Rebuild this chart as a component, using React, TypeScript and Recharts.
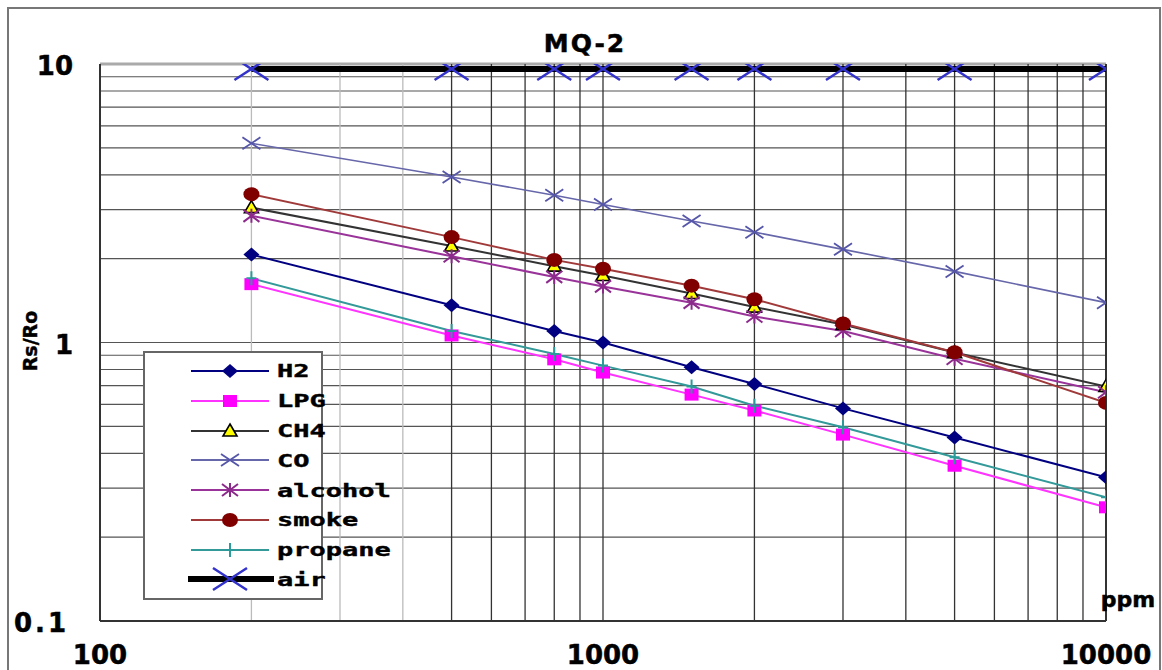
import React from 'react';
import { LineChart, Line, XAxis, YAxis, ReferenceLine, Legend, Label } from 'recharts';

// gas concentration (ppm) where each curve was sampled
const PPM = [200, 500, 800, 1000, 1500, 2000, 3000, 5000, 10000];

// Rs/Ro readings per gas
const H2 = [2.07, 1.36, 1.1, 1.0, 0.815, 0.71, 0.58, 0.456, 0.328];
const LPG = [1.62, 1.06, 0.87, 0.78, 0.65, 0.57, 0.467, 0.361, 0.256];
const CH4 = [3.05, 2.22, 1.88, 1.74, 1.5, 1.34, 1.16, 0.92, 0.695];
const CO = [5.19, 3.93, 3.38, 3.13, 2.73, 2.49, 2.16, 1.8, 1.39];
const ALCOHOL = [2.85, 2.04, 1.72, 1.59, 1.39, 1.24, 1.1, 0.874, 0.663];
const SMOKE = [3.41, 2.39, 1.98, 1.84, 1.6, 1.43, 1.17, 0.923, 0.607];
const PROPANE = [1.7, 1.1, 0.91, 0.826, 0.695, 0.593, 0.496, 0.387, 0.278];
const AIR = [9.6, 9.6, 9.6, 9.6, 9.6, 9.6, 9.6, 9.6, 9.6];

const X_TICKS = [100, 1000, 10000];
const Y_TICKS = [0.1, 1, 10];
const X_MINOR = [200, 300, 400, 500, 600, 700, 800, 900, 1000, 2000, 3000, 4000, 5000, 6000, 7000, 8000, 9000, 10000];
const Y_MINOR = [0.2, 0.3, 0.4, 0.5, 0.6, 0.7, 0.8, 0.9, 1, 2, 3, 4, 5, 6, 7, 8, 9, 10];

const data = PPM.map((ppm, i) => ({
  ppm,
  H2: H2[i],
  LPG: LPG[i],
  CH4: CH4[i],
  CO: CO[i],
  alcohol: ALCOHOL[i],
  smoke: SMOKE[i],
  propane: PROPANE[i],
  air: AIR[i],
}));

const SERIES = [
  { key: 'H2', color: '#000080', width: 2, marker: 'diamond' },
  { key: 'LPG', color: '#FF33FF', width: 2, marker: 'square' },
  { key: 'CH4', color: '#333333', width: 2, marker: 'triangle' },
  { key: 'CO', color: '#6666AA', width: 1.6, marker: 'x' },
  { key: 'alcohol', color: '#993399', width: 2, marker: 'asterisk' },
  { key: 'smoke', color: '#A03A3A', width: 2, marker: 'circle' },
  { key: 'propane', color: '#339999', width: 2, marker: 'plus' },
  { key: 'air', color: '#000000', width: 6, marker: 'bigx' },
];

const FONT = '"DejaVu Sans", "Liberation Sans", Arial, sans-serif';
const MONO = '"DejaVu Sans Mono", "Liberation Mono", monospace';

function Marker({ kind, cx, cy }: { kind: string; cx: number; cy: number }) {
  switch (kind) {
    case 'diamond':
      return <polygon points={`${cx},${cy - 7} ${cx + 8},${cy} ${cx},${cy + 7} ${cx - 8},${cy}`} fill="#000080" />;
    case 'square':
      return <rect x={cx - 7} y={cy - 6} width={14} height={12} fill="#FF00FF" />;
    case 'triangle':
      return (
        <polygon
          points={`${cx},${cy - 7} ${cx + 7},${cy + 5} ${cx - 7},${cy + 5}`}
          fill="#FFFF00"
          stroke="#000"
          strokeWidth={1.6}
        />
      );
    case 'x':
      return (
        <path
          d={`M${cx - 9},${cy - 6}L${cx + 9},${cy + 6}M${cx + 9},${cy - 6}L${cx - 9},${cy + 6}`}
          stroke="#5555AA"
          strokeWidth={1.8}
          fill="none"
        />
      );
    case 'asterisk':
      return (
        <path
          d={`M${cx - 8},${cy - 6}L${cx + 8},${cy + 6}M${cx + 8},${cy - 6}L${cx - 8},${cy + 6}M${cx},${cy - 7}L${cx},${cy + 7}`}
          stroke="#8B2A8B"
          strokeWidth={2}
          fill="none"
        />
      );
    case 'circle':
      return <ellipse cx={cx} cy={cy} rx={8} ry={7} fill="#800000" />;
    case 'plus':
      return (
        <path
          d={`M${cx},${cy - 7}L${cx},${cy + 7}M${cx - 5},${cy}L${cx + 5},${cy}`}
          stroke="#2A9A9A"
          strokeWidth={2}
          fill="none"
        />
      );
    case 'bigx':
      return (
        <path
          d={`M${cx - 17},${cy - 11}L${cx + 17},${cy + 11}M${cx + 17},${cy - 11}L${cx - 17},${cy + 11}`}
          stroke="#3333CC"
          strokeWidth={2.5}
          fill="none"
        />
      );
    default:
      return null;
  }
}

function LegendBox() {
  return (
    <div
      style={{
        border: '2px solid #666',
        background: '#fff',
        width: 176,
        height: 242,
        boxSizing: 'content-box',
        paddingTop: 3,
      }}
    >
      {SERIES.map((s) => (
        <div key={s.key} style={{ height: 29.8, display: 'flex', alignItems: 'center' }}>
          <svg width={130} height={30} style={{ display: 'block', flex: 'none' }}>
            <line
              x1={s.key === 'air' ? 43 : 46}
              x2={s.key === 'air' ? 129 : 124}
              y1={15}
              y2={15}
              stroke={s.color}
              strokeWidth={s.key === 'air' ? 6 : 2}
            />
            <Marker kind={s.marker} cx={85} cy={15} />
          </svg>
          <span
            style={{
              display: 'inline-block',
              fontFamily: MONO,
              fontWeight: 'bold',
              fontSize: 18,
              color: '#000',
              marginLeft: 2,
              whiteSpace: 'nowrap',
              transform: 'scaleX(1.5)',
              transformOrigin: 'left center',
              WebkitTextStroke: '0.4px #000',
            }}
          >
            {s.key}
          </span>
        </div>
      ))}
    </div>
  );
}

export default function App() {
  return (
    <div
      style={{
        position: 'absolute',
        left: 0,
        top: 0,
        width: 1162,
        height: 670,
        overflow: 'hidden',
        background: '#fff',
      }}
    >
      <div
        style={{
          position: 'absolute',
          left: 7,
          top: 7,
          width: 1150,
          height: 700,
          border: '2px solid #777',
        }}
      />
      <div
        style={{
          position: 'absolute',
          left: 0,
          width: 1162,
          top: 29,
          textAlign: 'center',
          paddingLeft: 8,
          boxSizing: 'border-box',
          fontFamily: FONT,
          fontWeight: 'bold',
          fontSize: 25,
          letterSpacing: 2,
          color: '#000',
          WebkitTextStroke: '0.5px #000',
        }}
      >
        MQ-2
      </div>
      <div style={{ position: 'absolute', left: 0, top: 0 }}>
        <LineChart width={1162} height={670} data={data} margin={{ top: 64, right: 56, left: 40, bottom: 9 }}>
          <XAxis
            dataKey="ppm"
            type="number"
            scale="log"
            domain={[100, 10000]}
            ticks={X_TICKS}
            allowDataOverflow
            height={40}
            tickLine={false}
            axisLine={{ stroke: '#333', strokeWidth: 2 }}
            tick={(p: any) => (
              <text
                x={p.x}
                y={621 + 43}
                textAnchor="middle"
                fontFamily={FONT}
                fontWeight="bold"
                fontSize={26}
                fill="#000"
                stroke="#000"
                strokeWidth={0.5}
              >
                {p.payload.value}
              </text>
            )}
          >
            <Label
              content={() => (
                <text
                  x={1128}
                  y={607}
                  textAnchor="middle"
                  fontFamily={FONT}
                  fontWeight="bold"
                  fontSize={22}
                  fill="#000"
                  stroke="#000"
                  strokeWidth={0.5}
                >
                  ppm
                </text>
              )}
            />
          </XAxis>
          <YAxis
            type="number"
            scale="log"
            domain={[0.1, 10]}
            ticks={Y_TICKS}
            allowDataOverflow
            width={60}
            tickLine={false}
            axisLine={{ stroke: '#333', strokeWidth: 2 }}
            tick={(p: any) => (
              <text
                x={p.payload.value === 0.1 ? 69 : 73}
                y={p.y + 11}
                textAnchor="end"
                fontFamily={FONT}
                fontWeight="bold"
                fontSize={26}
                letterSpacing={p.payload.value === 0.1 ? 3 : 0}
                fill="#000"
                stroke="#000"
                strokeWidth={0.5}
              >
                {p.payload.value}
              </text>
            )}
          >
            <Label
              content={() => (
                <text
                  x={37}
                  y={341}
                  transform="rotate(-90 37 341)"
                  textAnchor="middle"
                  fontFamily={FONT}
                  fontWeight="bold"
                  fontSize={19}
                  fill="#000"
                  stroke="#000"
                  strokeWidth={0.4}
                >
                  Rs/Ro
                </text>
              )}
            />
          </YAxis>
          {Y_MINOR.map((v) => (
            <ReferenceLine key={`h${v}`} y={v} stroke={v === 10 ? '#aaa' : '#555'} strokeWidth={v === 10 ? 3 : 1.2} />
          ))}
          {X_MINOR.map((v) => (
            <ReferenceLine
              key={`v${v}`}
              x={v}
              stroke={v < 500 ? '#bbb' : '#333'}
              strokeWidth={v === 10000 ? 2 : 1.3}
            />
          ))}
          <Legend
            layout="vertical"
            align="center"
            verticalAlign="middle"
            wrapperStyle={{ left: 143, top: 351, width: 180 }}
            content={() => <LegendBox />}
          />
          {SERIES.map((s) => (
            <Line
              key={s.key}
              dataKey={s.key}
              name={s.key}
              stroke={s.color}
              strokeWidth={s.width}
              isAnimationActive={false}
              dot={(p: any) => <Marker key={`${s.key}-${p.index}`} kind={s.marker} cx={p.cx} cy={p.cy} />}
              activeDot={false}
            />
          ))}
        </LineChart>
      </div>
    </div>
  );
}
